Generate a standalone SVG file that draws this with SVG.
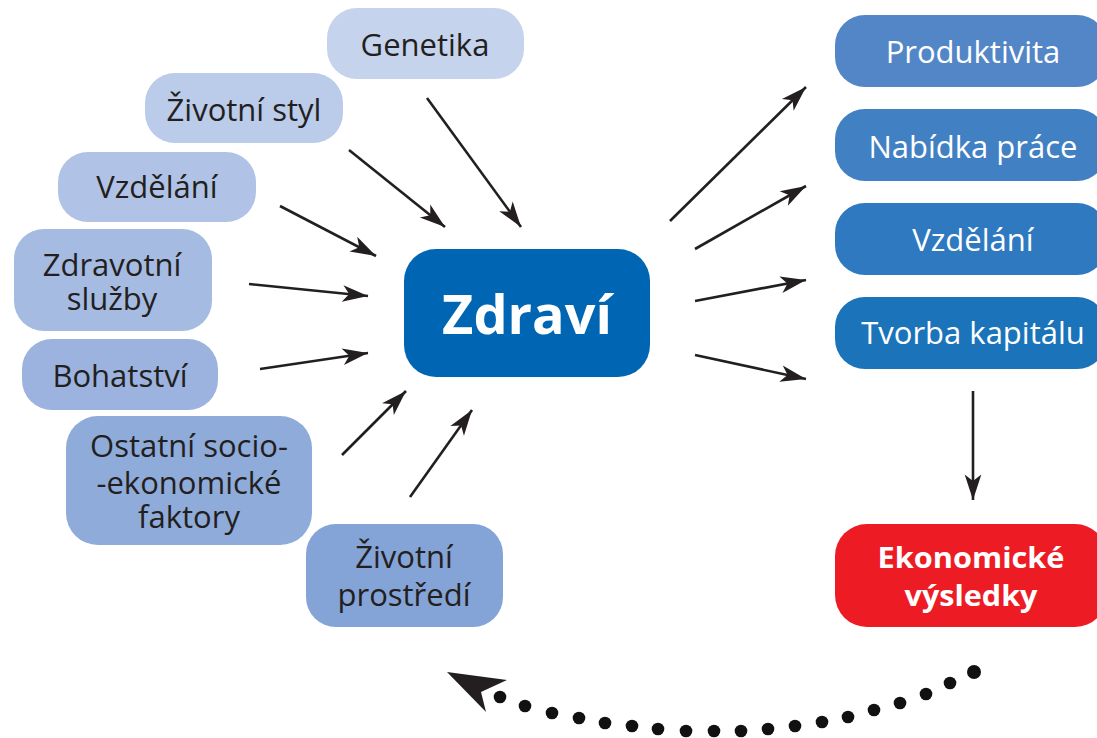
<svg xmlns="http://www.w3.org/2000/svg" width="1097" height="738" viewBox="0 0 1097 738">
<style>
.box{stroke:none}
.t{font-family:"Open Sans","Liberation Sans",sans-serif;font-size:31px;fill:#231f20;text-anchor:middle}
.tw{font-family:"Open Sans","Liberation Sans",sans-serif;font-size:31px;fill:#ffffff;text-anchor:middle}
.tb{font-family:"Open Sans","Liberation Sans",sans-serif;font-weight:bold;fill:#ffffff;text-anchor:middle}
.arr{stroke:#231f20;stroke-width:2.6;fill:none;marker-end:url(#ah)}
.dot{fill:#111111}
</style>
<defs>
<marker id="ah" markerUnits="userSpaceOnUse" markerWidth="30" markerHeight="20" viewBox="-24 -9 26 18" refX="0" refY="0" orient="auto">
<path d="M0,0 L-23,-7.5 L-17,0 L-23,7.5 Z" fill="#231f20"/>
</marker>
</defs>
<rect width="1097" height="738" fill="#ffffff"/>

<g id="genetika"><rect class="box" x="327" y="8" width="197" height="71" rx="30" fill="#C6D3EC"/><text class="t" x="425" y="56">Genetika</text></g>
<g id="zivotni-styl"><rect class="box" x="145" y="73" width="198" height="70" rx="30" fill="#BBCBEA"/><text class="t" x="244" y="121">Životní styl</text></g>
<g id="vzdelani-l"><rect class="box" x="58" y="152" width="198" height="70" rx="30" fill="#B0C3E6"/><text class="t" x="157" y="198">Vzdělání</text></g>
<g id="zdravotni-sluzby"><rect class="box" x="14" y="229" width="198" height="102" rx="30" fill="#A5BBE2"/><text class="t" x="112" y="276">Zdravotní</text><text class="t" x="112" y="310">služby</text></g>
<g id="bohatstvi"><rect class="box" x="22" y="339" width="196" height="71" rx="30" fill="#9BB3DE"/><text class="t" x="120" y="387">Bohatství</text></g>
<g id="ostatni"><rect class="box" x="66" y="416" width="246" height="129" rx="32" fill="#8FABDA"/><text class="t" x="189" y="457">Ostatní socio-</text><text class="t" x="189" y="494">-ekonomické</text><text class="t" x="189" y="528">faktory</text></g>
<g id="zivotni-prostredi"><rect class="box" x="306" y="524" width="197" height="103" rx="30" fill="#84A3D6"/><text class="t" x="404" y="568">Životní</text><text class="t" x="404" y="606">prostředí</text></g>

<g id="zdravi"><rect class="box" x="404" y="249" width="246" height="128" rx="32" fill="#0066B3"/><text class="tb" x="527" y="334" font-size="54">Zdraví</text></g>

<g id="produktivita"><rect class="box" x="835" y="15" width="272" height="72" rx="30" fill="#5386C6"/><text class="tw" x="973" y="63">Produktivita</text></g>
<g id="nabidka-prace"><rect class="box" x="835" y="109" width="272" height="72" rx="30" fill="#4280C4"/><text class="tw" x="973" y="158">Nabídka práce</text></g>
<g id="vzdelani-r"><rect class="box" x="835" y="203" width="272" height="72" rx="30" fill="#2E79BF"/><text class="tw" x="973" y="251">Vzdělání</text></g>
<g id="tvorba-kapitalu"><rect class="box" x="835" y="297" width="272" height="72" rx="30" fill="#1B73BA"/><text class="tw" x="973" y="344">Tvorba kapitálu</text></g>
<g id="ekonomicke-vysledky"><rect class="box" x="835" y="524" width="272" height="103" rx="32" fill="#ED1C24"/><text class="tb" x="971" y="568" font-size="28" textLength="187" lengthAdjust="spacingAndGlyphs">Ekonomické</text><text class="tb" x="971" y="606" font-size="28" textLength="133" lengthAdjust="spacingAndGlyphs">výsledky</text></g>

<g id="connectors">
<line class="arr" x1="427" y1="98" x2="521" y2="227"/>
<line class="arr" x1="349" y1="150" x2="445" y2="227"/>
<line class="arr" x1="280" y1="206" x2="376" y2="256"/>
<line class="arr" x1="249" y1="284" x2="368" y2="296"/>
<line class="arr" x1="260" y1="369" x2="368" y2="353"/>
<line class="arr" x1="342" y1="455" x2="406" y2="391"/>
<line class="arr" x1="410" y1="497" x2="472" y2="410"/>
<line class="arr" x1="670" y1="221" x2="806" y2="87"/>
<line class="arr" x1="695" y1="249" x2="806" y2="186"/>
<line class="arr" x1="695" y1="301" x2="806" y2="280"/>
<line class="arr" x1="695" y1="355" x2="806" y2="379"/>
<line class="arr" x1="973" y1="391" x2="973" y2="500"/>
<g id="feedback">
<circle class="dot" cx="974" cy="672" r="7"/>
<circle class="dot" cx="950" cy="683" r="6.3"/>
<circle class="dot" cx="926" cy="694" r="6.3"/>
<circle class="dot" cx="900" cy="703" r="6.3"/>
<circle class="dot" cx="874" cy="710" r="6.3"/>
<circle class="dot" cx="848" cy="717" r="6.3"/>
<circle class="dot" cx="822" cy="722" r="6.3"/>
<circle class="dot" cx="795" cy="726" r="6.3"/>
<circle class="dot" cx="768" cy="729" r="6.3"/>
<circle class="dot" cx="741" cy="731" r="6.3"/>
<circle class="dot" cx="714" cy="731" r="6.3"/>
<circle class="dot" cx="686" cy="731" r="6.3"/>
<circle class="dot" cx="658" cy="729" r="6.3"/>
<circle class="dot" cx="632" cy="726" r="6.3"/>
<circle class="dot" cx="605" cy="723" r="6.3"/>
<circle class="dot" cx="579" cy="718" r="6.3"/>
<circle class="dot" cx="552" cy="713" r="6.3"/>
<circle class="dot" cx="525" cy="706" r="6.3"/>
<circle class="dot" cx="500" cy="697" r="6.3"/>
<path d="M447,672 L507,680 L481,692 L486,712 Z" fill="#231f20"/>
</g>
</g>
</svg>
